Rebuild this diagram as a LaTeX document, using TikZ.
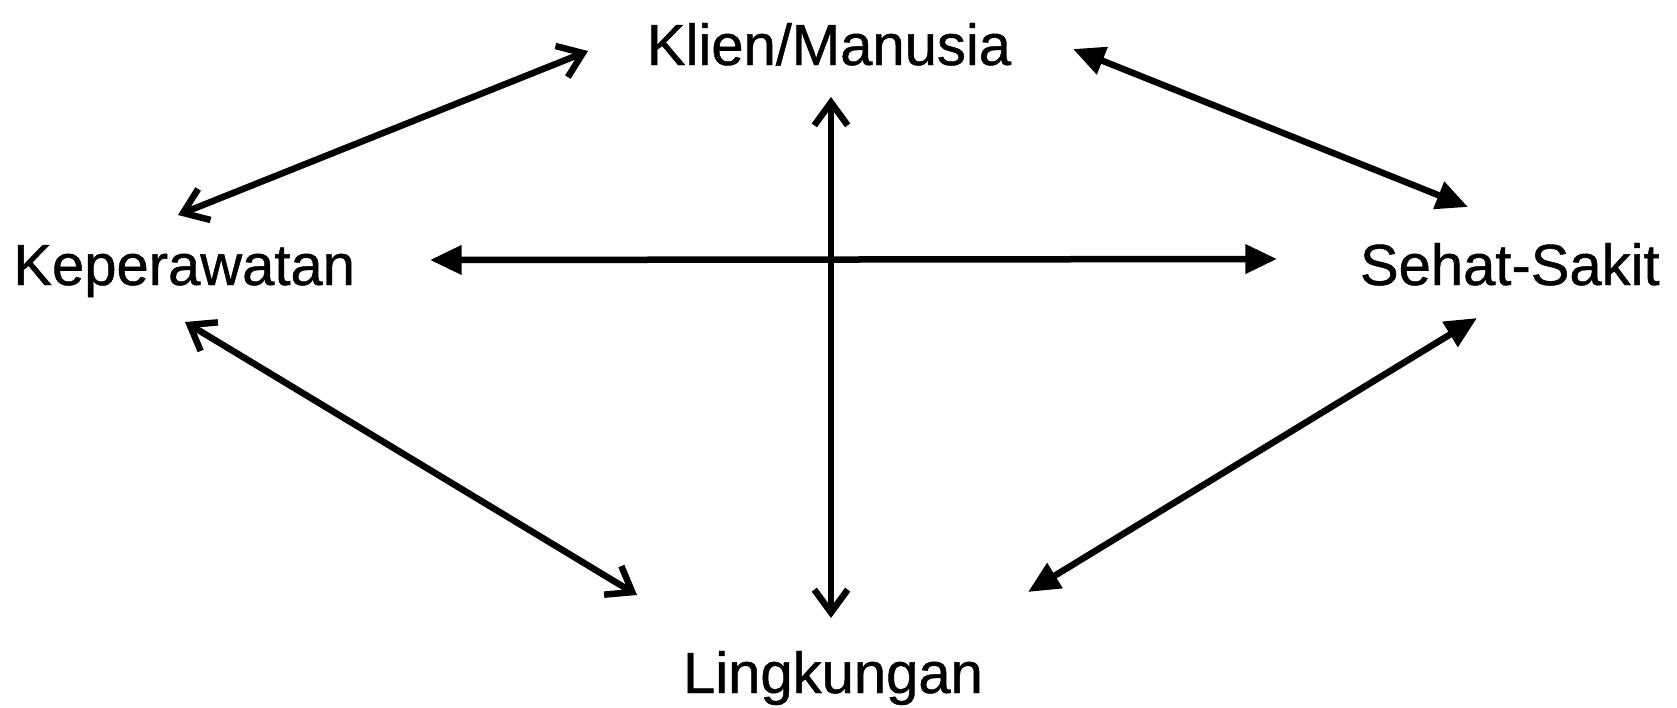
\documentclass[tikz,border=0pt]{standalone}
\usepackage{fontspec}
\setmainfont[FakeBold=0.8]{Liberation Sans}
\usetikzlibrary{arrows.meta, positioning, calc}

\begin{document}
\begin{tikzpicture}[x=0.02cm, y=-0.02cm,
  konsep/.style={inner sep=0pt, font=\fontsize{33}{40}\selectfont},
  barbpanah/.style={line width=3.7pt, {Straight Barb[length=13pt, width=19pt]}-{Straight Barb[length=13pt, width=19pt]}},
  segitiga/.style={line width=3.7pt, {Triangle[length=18pt, width=16pt]}-{Triangle[length=18pt, width=16pt]}}]
  \useasboundingbox (0,0) rectangle (1677,707);
  \node[konsep, anchor=base] (klien) at (829,65) {Klien/Manusia};
  \node[konsep, anchor=base west] (kep) at (13,285) {Keperawatan};
  \node[konsep, anchor=base east] (sehat) at (1660,285) {Sehat-Sakit};
  \node[konsep, anchor=base] (ling) at (833,693) {Lingkungan};

  \draw[barbpanah] ([shift={(165,-70)}]kep.base west) -- ([shift={(-241,-14)}]klien.base);
  \draw[segitiga] ([shift={(244,-16)}]klien.base) -- ([shift={(-192,-78)}]sehat.base east);
  \draw[segitiga] ([shift={(417,-25)}]kep.base west) -- ([shift={(-383,-26)}]sehat.base east);
  \draw[barbpanah] ([shift={(2,32)}]klien.base) -- ([shift={(-2,-75)}]ling.base);
  \draw[barbpanah] ([shift={(172,37)}]kep.base west) -- ([shift={(-196,-98)}]ling.base);
  \draw[segitiga] ([shift={(-183,33)}]sehat.base east) -- ([shift={(195,-101)}]ling.base);
\end{tikzpicture}
\end{document}
